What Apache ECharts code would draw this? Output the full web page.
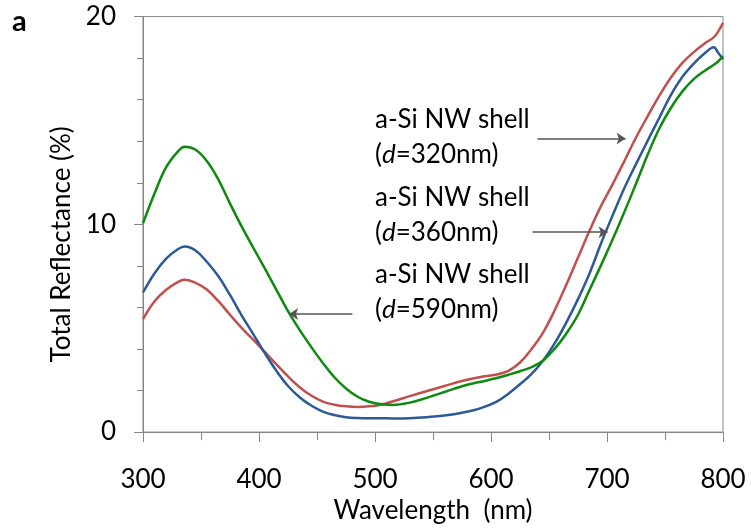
<!DOCTYPE html>
<html>
<head>
<meta charset="utf-8">
<script src="https://cdn.jsdelivr.net/npm/echarts@6/dist/echarts.min.js"></script>
<style>
html,body{margin:0;padding:0;background:#fff;}
#chart{width:751px;height:529px;}
</style>
</head>
<body>
<div id="chart"></div>
<script>
// Wavelength (nm)
const wavelengths = [300,310,320,330,336,345,355,365,375,385,395,405,415,425,435,445,455,465,475,485,495,505,515,530,545,560,575,590,605,615,625,635,645,655,665,675,685,695,705,715,725,735,745,755,765,775,785,792,796,800];
// d=320nm (red)
const shell320 = [5.44,6.3,6.85,7.22,7.33,7.2,6.86,6.3,5.65,5.02,4.45,3.86,3.26,2.68,2.16,1.76,1.47,1.32,1.24,1.21,1.24,1.32,1.47,1.73,1.98,2.22,2.46,2.64,2.77,2.95,3.35,4.0,4.8,5.88,7.1,8.4,9.7,10.9,11.95,13.05,14.18,15.2,16.18,17.06,17.77,18.3,18.74,19.0,19.3,19.7];
// d=360nm (blue)
const shell360 = [6.72,7.65,8.35,8.8,8.93,8.75,8.2,7.5,6.6,5.62,4.72,3.8,2.95,2.22,1.68,1.28,0.99,0.82,0.72,0.68,0.67,0.67,0.66,0.67,0.72,0.8,0.93,1.13,1.47,1.85,2.3,2.8,3.45,4.28,5.28,6.4,7.65,9.1,10.45,11.75,12.9,14.02,15.12,16.22,17.1,17.75,18.27,18.53,18.25,17.95];
// d=590nm (green)
const shell590 = [10.05,11.5,12.75,13.5,13.73,13.6,13.05,12.15,11.0,9.9,8.88,7.88,6.85,5.82,4.92,4.1,3.33,2.64,2.1,1.7,1.46,1.35,1.31,1.42,1.66,1.93,2.21,2.41,2.6,2.76,2.93,3.13,3.45,4.02,4.75,5.65,6.85,8.05,9.3,10.6,11.95,13.35,14.6,15.6,16.4,17.0,17.42,17.68,17.85,18.1];

const xTicks = [300,400,500,600,700,800];
const yTicks = [0,10,20];
// annotation arrows: [fromWavelength, value, toWavelength]
const arrows = [[640,14.13,716],[636,9.62,700.5],[480.5,5.68,426]];
const labelLines = [
  ['a-Si NW shell','(d=320nm)'],
  ['a-Si NW shell','(d=360nm)'],
  ['a-Si NW shell','(d=590nm)']
];

const FONT = 'Lato';
const FS = 26;
const chart = echarts.init(document.getElementById('chart'), null, {renderer:'canvas'});

function pairs(ys){ return wavelengths.map((x,i)=>[x, ys[i]]); }

const lineSeries = (name, ys, color) => ({
  name, type:'line', data: pairs(ys), smooth:0.4, showSymbol:false, symbol:'none',
  lineStyle:{color, width:2.5}, itemStyle:{color}, z:3, animation:false
});

const textEls = [];
const baseTops = [120,198,275];
labelLines.forEach((pair, gi) => {
  const d = pair[1].match(/\(d=(.*)\)/)[1];
  textEls.push({type:'text', x:375, y:baseTops[gi], style:{text:pair[0], font:FS+'px '+FONT, fill:'#000', verticalAlign:'middle'}});
  textEls.push({type:'text', x:375, y:baseTops[gi]+35, style:{
    text:'({i|d}=' + d + ')', font:FS+'px '+FONT, fill:'#000', verticalAlign:'middle',
    rich:{i:{fontStyle:'italic', fontFamily:FONT, fontSize:FS, fill:'#000'}}
  }});
});
textEls.push({type:'text', x:12, y:22, style:{text:'a', font:'bold 29px '+FONT, fill:'#000', verticalAlign:'middle'}});

chart.setOption({
  animation:false,
  backgroundColor:'#fff',
  grid:{left:143, right:28, top:16.6, bottom:95.7, show:true, borderColor:'#868686', borderWidth:1},
  xAxis:{
    type:'value', min:300, max:800, interval:100,
    name:'Wavelength  (nm)', nameLocation:'middle', nameGap:59,
    nameTextStyle:{fontFamily:FONT, fontSize:FS, color:'#000'},
    axisLine:{show:true, onZero:false, lineStyle:{color:'#868686', width:1}},
    axisTick:{show:true, length:10, lineStyle:{color:'#868686'}},
    minorTick:{show:true, splitNumber:2, length:8, lineStyle:{color:'#868686'}},
    splitLine:{show:false},
    axisLabel:{fontFamily:FONT, fontSize:FS, color:'#000', margin:35,
      formatter:v => xTicks.includes(v) ? String(v) : ''}
  },
  yAxis:{
    type:'value', min:0, max:20, interval:10,
    name:'Total Reflectance (%)', nameLocation:'middle', nameGap:57, nameRotate:90,
    nameTextStyle:{fontFamily:FONT, fontSize:FS, color:'#000', padding:[0,40,0,0]},
    axisLine:{show:true, lineStyle:{color:'#868686', width:1}},
    axisTick:{show:true, length:9, lineStyle:{color:'#868686'}},
    minorTick:{show:true, splitNumber:5, length:6, lineStyle:{color:'#868686'}},
    splitLine:{show:false},
    axisLabel:{fontFamily:FONT, fontSize:FS, color:'#000', margin:27,
      formatter:v => yTicks.includes(v) ? String(v) : ''}
  },
  series:[
    lineSeries('d=320nm', shell320, '#C0504D'),
    lineSeries('d=360nm', shell360, '#2C5A96'),
    Object.assign(lineSeries('d=590nm', shell590, '#0E8A0E'), {
      markLine:{
        silent:true, animation:false,
        symbol:['none','arrow'], symbolSize:9,
        label:{show:false},
        lineStyle:{color:'#555', width:1.5, type:'solid'},
        emphasis:{disabled:true},
        data: arrows.map(a => [{coord:[a[0],a[1]]},{coord:[a[2],a[1]]}])
      }
    })
  ],
  graphic:textEls
});
</script>
</body>
</html>
